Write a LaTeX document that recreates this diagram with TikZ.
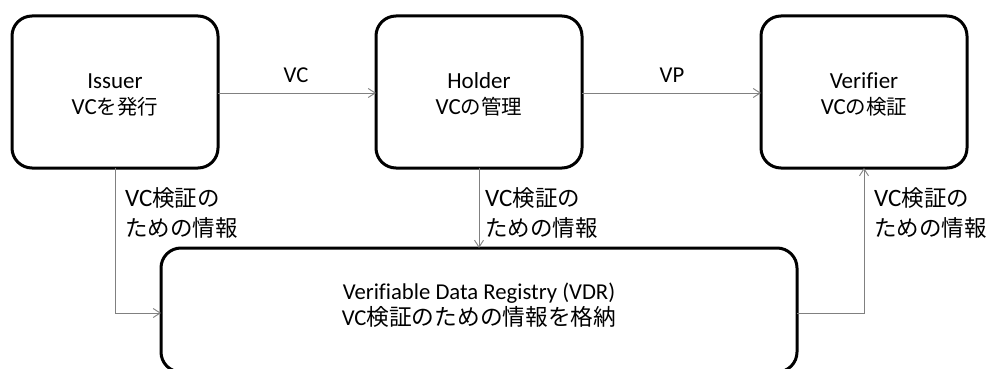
\documentclass[tikz,border=0pt]{standalone}
\usepackage{fontspec}
\setmainfont{Carlito}[Ligatures=NoCommon]
% Japanese faces at three relative sizes
\newfontfamily\jpbox[Scale=0.89]{Noto Sans CJK JP}
\newfontfamily\jpside[Scale=0.90]{Noto Sans CJK JP}
\newfontfamily\jpwide[Scale=1.0]{Noto Sans CJK JP}
\usetikzlibrary{arrows.meta}
\tikzset{
  actor/.style={draw=black, line width=3pt, rounded corners=20pt, fill=white},
  flow/.style={draw=black!50, line width=0.9pt, -{Straight Barb[length=7pt,width=9pt,line width=0.9pt]}},
  % anchor=base sits on the last line of a multi-line node
  boxtext/.style={align=center, anchor=base, inner sep=0pt, font=\fontsize{23}{26}\selectfont},
  widetext/.style={align=center, anchor=base, inner sep=0pt, font=\fontsize{22.7}{26}\selectfont},
  lbl/.style={anchor=base, inner sep=0pt, font=\fontsize{22.7}{27}\selectfont},
  sidelbl/.style={align=left, anchor=base west, inner sep=0pt, font=\fontsize{25}{30}\selectfont}
}
\begin{document}
\begin{tikzpicture}[x=1pt,y=-1pt]
\useasboundingbox (0,0) rectangle (990,369);
% actor boxes
\draw[actor] (12,16) rectangle (218,168);
\draw[actor] (376,16) rectangle (582,168);
\draw[actor] (761,16) rectangle (967,168);
\draw[actor] (161,248) rectangle (797,372);
\node[boxtext] (issuer) at (115,114) {Issuer\\VC{\jpbox を発行}};
\node[boxtext] (holder) at (479,114) {Holder\\VC{\jpbox の管理}};
\node[boxtext] (verifier) at (864,114) {Verifier\\VC{\jpbox の検証}};
\node[widetext] (vdr) at (479,325) {Verifiable Data Registry (VDR)\\VC{\jpwide 検証のための情報を格納}};
% attachment points on the box edges
\coordinate (iR) at (218,93);
\coordinate (hL) at (376,93);
\coordinate (hR) at (582,93);
\coordinate (vL) at (761,93);
\coordinate (iB) at (115,168);
\coordinate (hB) at (479,168);
\coordinate (vB) at (864,168);
\coordinate (dL) at (161,313);
\coordinate (dT) at (479,248);
\coordinate (dR) at (797,313);
% flows between the parties
\draw[flow] (iR) -- (hL);
\draw[flow] (hR) -- (vL);
\draw[flow] (iB) |- (dL);
\draw[flow] (hB) -- (dT);
\draw[flow] (dR) -| (vB);
\node[lbl] (lvc) at (296,82) {VC};
\node[lbl] (lvp) at (672,82) {VP};
\node[sidelbl] (li) at (125,236) {VC{\jpside 検証の}\\{\jpside ための情報}};
\node[sidelbl] (lh) at (485,236) {VC{\jpside 検証の}\\{\jpside ための情報}};
\node[sidelbl] (lv) at (874,236) {VC{\jpside 検証の}\\{\jpside ための情報}};
\end{tikzpicture}
\end{document}
